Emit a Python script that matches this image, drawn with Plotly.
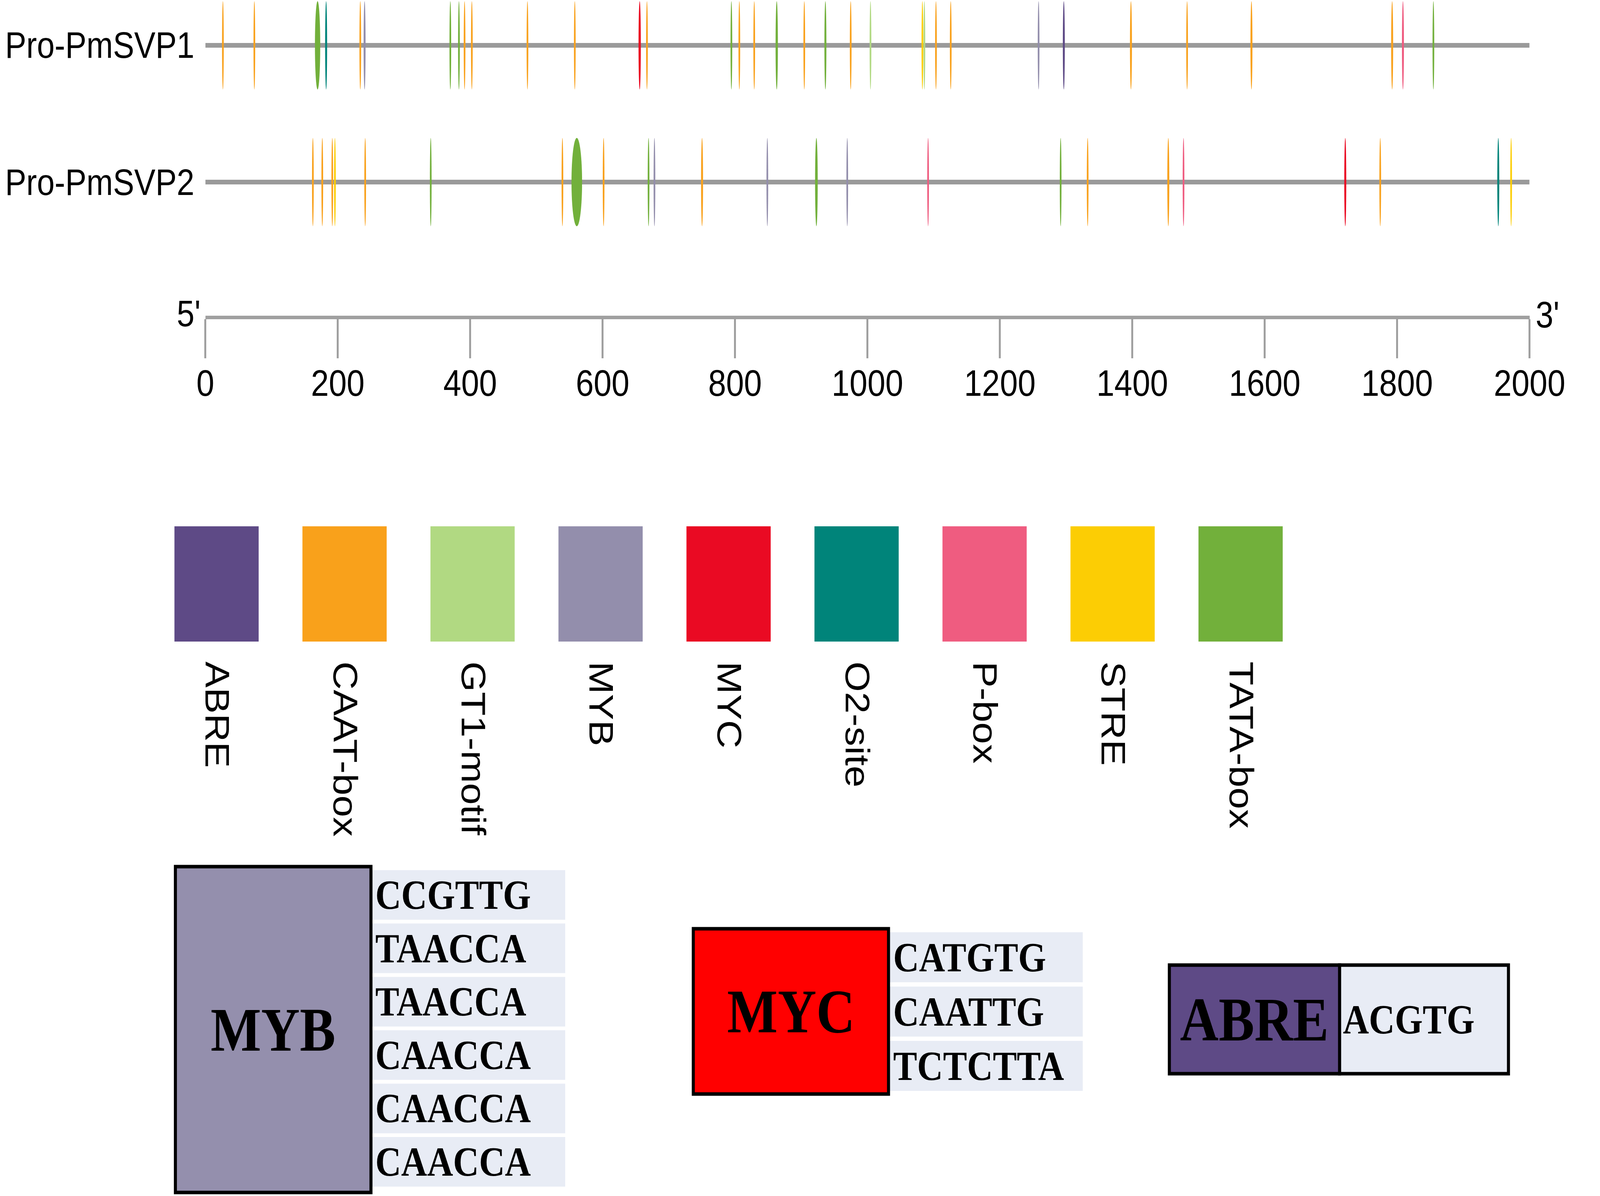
import plotly.graph_objects as go

# canvas size (px)
W, H = 4724, 3061

# motif legend
motifs = ["ABRE", "CAAT-box", "GT1-motif", "MYB", "MYC", "O2-site", "P-box", "STRE", "TATA-box"]
motif_colors = ["#5E4A86", "#F9A11B", "#B1D982", "#938EAC", "#EA0A23",
                "#00847A", "#EF5C80", "#FCCD04", "#72B03B"]
legend_height = [1, 1, 1, 1, 1, 1, 1, 1, 1]

promoters = ["Pro-PmSVP1", "Pro-PmSVP2"]
promoter_length = 2000

# Pro-PmSVP1 sites: position (bp), motif, site length (bp)
svp1_pos = [26.5, 74, 169.5, 182.4, 234, 240.5, 370, 383, 391.5, 402.5, 486.5, 558,
            656, 667, 794.5, 806.5, 829, 863, 904.6, 936.5, 974.7, 1004.6, 1083, 1086,
            1103.5, 1125.8, 1258.5, 1296.6, 1398, 1482.8, 1580, 1792.5, 1808.8, 1854.8]
svp1_motif = ["CAAT-box", "CAAT-box", "TATA-box", "O2-site", "CAAT-box", "MYB", "TATA-box",
              "TATA-box", "CAAT-box", "CAAT-box", "CAAT-box", "CAAT-box", "MYC", "CAAT-box",
              "TATA-box", "CAAT-box", "CAAT-box", "TATA-box", "CAAT-box", "TATA-box",
              "CAAT-box", "GT1-motif", "STRE", "GT1-motif", "CAAT-box", "CAAT-box", "MYB",
              "ABRE", "CAAT-box", "CAAT-box", "CAAT-box", "CAAT-box", "P-box", "TATA-box"]
svp1_len = [2.6, 2.6, 8, 3, 2.6, 3, 2.6, 2.6, 2.6, 2.6, 2.6, 2.6, 3.5, 2.6, 2.6, 2.6, 2.6,
            3.5, 2.6, 3, 2.6, 2.6, 2.6, 2.6, 2.6, 2.6, 2.6, 3, 3, 2.6, 3, 3, 3, 2.6]

# Pro-PmSVP2 sites
svp2_pos = [162.4, 176.6, 191.7, 195.7, 241.4, 340.4, 539.3, 561, 601.5, 669.4, 678.3,
            750.2, 848.8, 922.9, 969.5, 1091.6, 1291.8, 1332.6, 1454.4, 1477.4, 1721.7,
            1774.5, 1952.8, 1972.2]
svp2_motif = ["CAAT-box", "CAAT-box", "CAAT-box", "STRE", "CAAT-box", "TATA-box", "CAAT-box",
              "TATA-box", "CAAT-box", "TATA-box", "MYB", "CAAT-box", "MYB", "TATA-box", "MYB",
              "P-box", "TATA-box", "CAAT-box", "CAAT-box", "P-box", "MYC", "CAAT-box",
              "O2-site", "STRE"]
svp2_len = [2.6, 2.6, 2.6, 2.6, 2.6, 2.6, 2.6, 16, 2.6, 2.6, 2.6, 3, 2.6, 4, 2.6, 2.6,
            2.6, 2.6, 3, 2.6, 3, 2.6, 3, 2.6]

scale_ticks = [0, 200, 400, 600, 800, 1000, 1200, 1400, 1600, 1800, 2000]

# element sequence tables
box_labels = ["MYB", "MYC", "ABRE"]
box_colors = ["#948FAD", "#FF0000", "#5E4A86"]
myb_seqs = ["CCGTTG", "TAACCA", "TAACCA", "CAACCA", "CAACCA", "CAACCA"]
myc_seqs = ["CATGTG", "CAATTG", "TCTCTTA"]
abre_seqs = ["ACGTG"]
box_seqs = [myb_seqs, myc_seqs, abre_seqs]


def px(x):
    return x / W


def py(y):
    return 1 - y / H


color_of = dict(zip(motifs, motif_colors))
sans = "Liberation Sans, Arial, sans-serif"
serif = "Liberation Serif, Times New Roman, serif"
cell_fill = "#E8ECF5"
track_gray = "#9A9A9A"

row_y = [116, 466]
mark_half = 113

fig = go.Figure()

shapes = []
annotations = []

# promoter tracks
tracks = [(svp1_pos, svp1_motif, svp1_len), (svp2_pos, svp2_motif, svp2_len)]
for i, (pos, mot, ln) in enumerate(tracks):
    fig.add_trace(go.Scatter(x=[0, promoter_length], y=[row_y[i], row_y[i]], mode="lines",
                             line=dict(color=track_gray, width=12), hoverinfo="skip",
                             showlegend=False))
    for p, m, l in zip(pos, mot, ln):
        shapes.append(dict(type="circle", xref="x", yref="y",
                           x0=p - l / 2, x1=p + l / 2,
                           y0=row_y[i] - mark_half, y1=row_y[i] + mark_half,
                           fillcolor=color_of[m], line=dict(width=0), layer="above"))
    annotations.append(dict(text=promoters[i], xref="paper", yref="paper",
                            x=px(566), y=py(row_y[i]), xanchor="right", yanchor="middle",
                            showarrow=False, font=dict(family=sans, size=94, color="black")))

# 5' / 3' labels of the scale
annotations.append(dict(text="5'", xref="paper", yref="paper", x=px(584), y=py(802),
                        xanchor="right", yanchor="middle", showarrow=False,
                        font=dict(family=sans, size=94, color="black")))
annotations.append(dict(text="3'", xref="paper", yref="paper", x=px(4636), y=py(806),
                        xanchor="left", yanchor="middle", showarrow=False,
                        font=dict(family=sans, size=94, color="black")))

# legend swatches
fig.add_trace(go.Bar(x=motifs, y=legend_height, marker=dict(color=motif_colors, line=dict(width=0)),
                     width=0.658, xaxis="x2", yaxis="y2", showlegend=False, hoverinfo="x"))

# element boxes with their sequences
groups = [
    dict(x0=506, x1=1100, y0=2218, y1=3052, cx=1103, cx1=1690, top=2227, pitch=136.6, h=127),
    dict(x0=2079, x1=2672, y0=2377, y1=2800, cx=2676, cx1=3262, top=2386, pitch=139, h=128),
    dict(x0=3525, x1=4042, y0=2470, y1=2748, cx=4042, cx1=4555, top=2470, pitch=278, h=278),
]


def rect(x0, y0, x1, y1, fill, lw=0):
    return dict(type="rect", xref="paper", yref="paper", x0=px(x0), x1=px(x1),
                y0=py(y1), y1=py(y0), fillcolor=fill,
                line=dict(width=lw, color="black"), layer="above")


for g, label, col, seqs in zip(groups, box_labels, box_colors, box_seqs):
    bordered = len(seqs) == 1
    for k, s in enumerate(seqs):
        top = g["top"] + k * g["pitch"]
        shapes.append(rect(g["cx"], top, g["cx1"], top + g["h"], cell_fill, 9 if bordered else 0))
        annotations.append(dict(text=s, xref="paper", yref="paper",
                                x=px(g["cx"] + 8), y=py(top + g["h"] / 2),
                                xanchor="left", yanchor="middle", showarrow=False,
                                font=dict(family=serif, size=106, color="black", weight="bold")))
    shapes.append(rect(g["x0"], g["y0"], g["x1"], g["y1"], col, 9))
    annotations.append(dict(text=label, xref="paper", yref="paper",
                            x=px((g["x0"] + g["x1"]) / 2), y=py((g["y0"] + g["y1"]) / 2),
                            xanchor="center", yanchor="middle", showarrow=False,
                            font=dict(family=serif, size=158, color="black", weight="bold")))

fig.update_layout(
    width=W, height=H,
    margin=dict(l=0, r=0, t=0, b=0),
    paper_bgcolor="white", plot_bgcolor="white",
    showlegend=False,
    shapes=shapes,
    annotations=annotations,
    xaxis=dict(domain=[px(597), px(4619)], range=[0, promoter_length], anchor="free",
               position=py(812), showline=True, linewidth=9, linecolor="#A0A0A0",
               ticks="outside", ticklen=100, tickwidth=6, tickcolor="#A0A0A0",
               tickvals=scale_ticks, ticktext=[str(t) for t in scale_ticks],
               ticklabelstandoff=-18, ticklabeloverflow="allow",
               tickfont=dict(family=sans, size=95, color="black"),
               showgrid=False, zeroline=False, fixedrange=True),
    yaxis=dict(domain=[0, 1], range=[H, 0], visible=False, fixedrange=True),
    xaxis2=dict(domain=[px(436.6), px(3935.8)], range=[-0.5, 8.5], anchor="y2",
                tickangle=90, ticks="", showline=False, showgrid=False, zeroline=False,
                ticklabelstandoff=50,
                tickfont=dict(family=sans, size=100, color="black"), fixedrange=True),
    yaxis2=dict(domain=[py(1642), py(1347)], range=[0, 1], anchor="x2", visible=False,
                fixedrange=True),
)

# stretch the fixed-size figure over the browser viewport (wrapper clips overflow)
fit_script = """
var gd = document.getElementById('{plot_id}');
var wrap = gd.parentElement;
document.documentElement.style.margin = '0';
document.documentElement.style.overflow = 'hidden';
document.body.style.margin = '0';
document.body.style.overflow = 'hidden';
wrap.style.position = 'fixed';
wrap.style.left = '0';
wrap.style.top = '0';
wrap.style.width = '100vw';
wrap.style.height = '100vh';
wrap.style.overflow = 'hidden';
var sx = wrap.clientWidth / %d, sy = wrap.clientHeight / %d;
gd.style.transformOrigin = '0 0';
gd.style.transform = 'scale(' + sx + ',' + sy + ')';
""" % (W, H)

fig.write_html("out.html", post_script=fit_script, config={"displayModeBar": False})
